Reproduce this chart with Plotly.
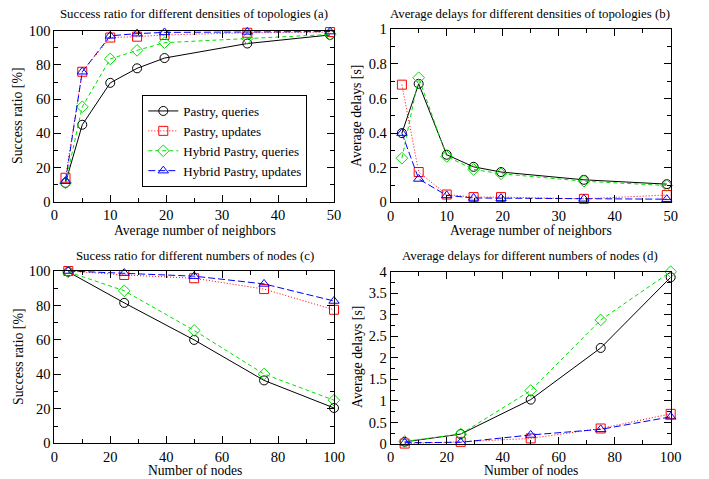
import plotly.graph_objects as go

# The page body has an 8px margin, so the figure is drawn 8px in from the
# top-left corner of the 709x479 window; the figure is sized to fill the rest.
OFF = 8
W, H = 709 - OFF, 479 - OFF

# ---- data ----
x_neighbors = [2, 5, 10, 14.8, 19.7, 34.5, 49.3]
a_pastry_q = [11, 45, 69.5, 78, 84, 92.5, 97.5]
a_pastry_u = [14, 76, 96, 96.5, 97.5, 98.8, 99.2]
a_hybrid_q = [11, 55.5, 83.5, 88.5, 93, 95.5, 97.8]
a_hybrid_u = [12, 76, 97, 98.3, 99, 99.3, 99.5]

b_pastry_q = [0.40, 0.685, 0.275, 0.205, 0.175, 0.13, 0.105]
b_pastry_u = [0.68, 0.175, 0.045, 0.03, 0.03, 0.02, 0.042]
b_hybrid_q = [0.255, 0.72, 0.265, 0.19, 0.165, 0.122, 0.097]
b_hybrid_u = [0.40, 0.135, 0.04, 0.025, 0.024, 0.02, 0.018]

x_nodes = [5, 25, 50, 75, 100]
c_pastry_q = [99.5, 81.5, 60, 36.5, 20.5]
c_pastry_u = [100, 97.7, 95.8, 89.5, 77.5]
c_hybrid_q = [99.5, 88.5, 65.5, 40.2, 25]
c_hybrid_u = [100, 98.8, 97, 92.5, 82.6]

d_pastry_q = [0.05, 0.23, 1.03, 2.23, 3.87]
d_pastry_u = [0.01, 0.05, 0.13, 0.36, 0.70]
d_hybrid_q = [0.06, 0.23, 1.24, 2.88, 4.0]
d_hybrid_u = [0.03, 0.04, 0.21, 0.34, 0.63]

names = ["Pastry, queries", "Pastry, updates", "Hybrid Pastry, queries", "Hybrid Pastry, updates"]
colors = ["black", "red", "#00e000", "blue"]
symbols = ["circle-open", "square-open", "diamond-open", "triangle-up-open"]
dashes = ["solid", "1px,2px", "4px,3px", "7px,3px"]

FONT = "Liberation Serif"

fig = go.Figure()

panels = [
    ("x", "y", x_neighbors, [a_pastry_q, a_pastry_u, a_hybrid_q, a_hybrid_u], True),
    ("x2", "y2", x_neighbors, [b_pastry_q, b_pastry_u, b_hybrid_q, b_hybrid_u], False),
    ("x3", "y3", x_nodes, [c_pastry_q, c_pastry_u, c_hybrid_q, c_hybrid_u], False),
    ("x4", "y4", x_nodes, [d_pastry_q, d_pastry_u, d_hybrid_q, d_hybrid_u], False),
]

for xa, ya, xs, series, show in panels:
    for i, ys in enumerate(series):
        fig.add_trace(go.Scatter(
            x=xs, y=ys, xaxis=xa, yaxis=ya, name=names[i], showlegend=show,
            mode="lines+markers", cliponaxis=False,
            line=dict(color=colors[i], width=1, dash=dashes[i]),
            marker=dict(symbol=symbols[i], size=9, color=colors[i],
                        line=dict(color=colors[i], width=1)),
        ))


def px_x(p):
    return (p - OFF) / W


def px_y(p):
    return 1 - (p - OFF) / H


def axis(domain, rng, dtick, minor, anchor):
    return dict(
        domain=domain, range=rng, dtick=dtick, tick0=0, anchor=anchor,
        automargin=False,
        showgrid=False, zeroline=False, showline=True, linecolor="black", linewidth=1,
        mirror="allticks", ticks="inside", ticklen=7, tickwidth=1, tickcolor="black",
        tickfont=dict(family=FONT, size=14.5, color="black"),
        minor=dict(ticks="inside", ticklen=4, dtick=minor, tickcolor="black", tickwidth=1, showgrid=False),
    )


ax_a_x = [px_x(54.3), px_x(334)]
ax_b_x = [px_x(390.7), px_x(670.7)]
ax_a_y = [px_y(201.7), px_y(30.7)]
ax_b_y = [px_y(202.3), px_y(29.3)]
ax_c_y = [px_y(443.3), px_y(271)]
ax_d_y = [px_y(444), px_y(271.7)]

fig.update_layout(
    width=W, height=H,
    margin=dict(l=0, r=0, t=0, b=0, autoexpand=False),
    paper_bgcolor="white", plot_bgcolor="white",
    font=dict(family=FONT, color="black"),
    xaxis=axis(ax_a_x, [0, 50], 10, 5, "y"),
    yaxis=axis(ax_a_y, [0, 100], 20, 10, "x"),
    xaxis2=axis(ax_b_x, [0, 50], 10, 5, "y2"),
    yaxis2=axis(ax_b_y, [0, 1], 0.2, 0.1, "x2"),
    xaxis3=axis(ax_a_x, [0, 100], 20, 10, "y3"),
    yaxis3=axis(ax_c_y, [0, 100], 20, 10, "x3"),
    xaxis4=axis(ax_b_x, [0, 100], 20, 10, "y4"),
    yaxis4=axis(ax_d_y, [0, 4], 0.5, 0.25, "x4"),
    legend=dict(
        x=px_x(142.3), y=px_y(95), xanchor="left", yanchor="top",
        bgcolor="white", bordercolor="black", borderwidth=1,
        font=dict(family=FONT, size=13, color="black"),
        itemwidth=30, tracegroupgap=0,
    ),
    showlegend=True,
)

annots = [
    ("Success ratio for different densities of topologies (a)", 194, 14, 12.8, 0),
    ("Average delays for different densities of topologies (b)", 530, 14, 12.8, 0),
    ("Sucess ratio for different numbers of nodes (c)", 195, 256, 12.8, 0),
    ("Average delays for different numbers of nodes (d)", 530, 256, 12.8, 0),
    ("Average number of neighbors", 195, 230, 13.6, 0),
    ("Average number of neighbors", 531, 230, 13.6, 0),
    ("Number of nodes", 195, 470.5, 13.6, 0),
    ("Number of nodes", 531, 470.5, 13.6, 0),
    ("Success ratio [%]", 18, 116, 13.8, -90),
    ("Average delays [s]", 357, 116, 13.8, -90),
    ("Success ratio [%]", 18, 357, 13.8, -90),
    ("Average delays [s]", 357, 357, 13.8, -90),
]
for text, x, y, size, ang in annots:
    fig.add_annotation(
        text=text, x=px_x(x), y=px_y(y), xref="paper", yref="paper",
        xanchor="center", yanchor="middle", showarrow=False, textangle=ang,
        font=dict(family=FONT, size=size, color="black"),
    )

fig.write_html("out.html")
